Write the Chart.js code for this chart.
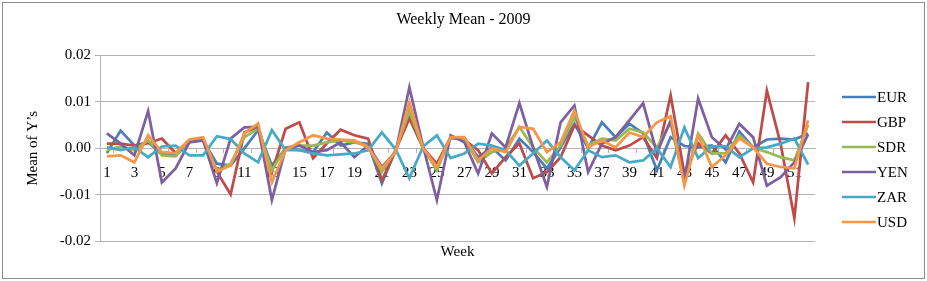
<!DOCTYPE html>
<html>
<head>
<meta charset="utf-8">
<script src="https://cdn.jsdelivr.net/npm/chart.js@4.4.1/dist/chart.umd.min.js"></script>
<style>
  body { margin: 0; background: #fff; }
  #frame { position: absolute; left: 2px; top: 2px; width: 921px; height: 275px; border: 1px solid #8c8c8c; pointer-events: none; }
  canvas { position: absolute; left: 0; top: 0; }
</style>
</head>
<body>
<canvas id="chart" width="927" height="281"></canvas>
<div id="frame"></div>
<script>
// weekly mean of Y's, 2009

const weeks = Array.from({ length: 52 }, (_, i) => String(i + 1));
const yTicks = [-0.02, -0.01, 0, 0.01, 0.02];

const eur = [-0.001, 0.0038, 0.0006, 0.0013, -0.0012, -0.0015, 0.0015, 0.0017, -0.0033, -0.0037,
  0.0, 0.0039, -0.0037, 0.0, -0.0004, -0.0008, 0.0034, 0.0006, 0.0013, 0.001,
  -0.0075, -0.0004, 0.0077, 0.0, -0.0037, 0.0022, 0.002, -0.0019, 0.0002, -0.0026,
  0.0021, -0.0008, -0.0043, 0.0002, 0.0053, 0.0, 0.0056, 0.0024, 0.0053, 0.0032,
  -0.0047, 0.0024, 0.0005, 0.0002, 0.0006, -0.003, 0.0036, 0.0002, 0.0019, 0.0021,
  0.0019, 0.0032];
const gbp = [0.001, 0.001, 0.0006, 0.0011, 0.0021, -0.001, 0.0017, 0.0017, -0.005, -0.0099,
  0.0034, 0.0046, -0.0051, 0.0042, 0.0056, -0.0021, 0.0011, 0.004, 0.0028, 0.0021,
  -0.0069, -0.0004, 0.0064, 0.0, -0.0033, 0.0024, 0.0018, -0.0004, -0.0054, -0.0019,
  0.0011, -0.0064, -0.0051, -0.0019, 0.0049, 0.0028, 0.0006, -0.0004, 0.0006, 0.0024,
  -0.0021, 0.0114, -0.0054, 0.0011, -0.0011, 0.0028, -0.0011, -0.0073, 0.0124, 0.001,
  -0.015, 0.0142];
const sdr = [-0.0004, 0.0004, -0.0004, 0.0017, -0.0015, -0.0017, 0.0017, 0.002, -0.0047, -0.0033,
  0.0024, 0.0042, -0.0047, 0.0002, 0.0006, 0.0006, 0.0013, 0.0017, 0.0013, 0.0006,
  -0.0051, -0.0004, 0.008, 0.0, -0.0047, 0.0024, 0.002, -0.003, -0.0008, 0.0,
  0.0046, 0.0002, -0.003, 0.0006, 0.0067, 0.0006, 0.0021, 0.0017, 0.0042, 0.0034,
  0.0002, 0.0055, -0.0075, 0.0032, -0.0011, -0.0011, 0.0028, 0.0002, -0.0008, -0.0019,
  -0.0026, 0.005];
const yen = [0.0032, 0.001, -0.0015, 0.008, -0.0073, -0.0043, 0.0013, 0.0017, -0.0075, 0.0021,
  0.0045, 0.0046, -0.0111, 0.0, 0.0006, -0.0008, -0.0004, 0.0013, -0.0019, 0.0006,
  -0.004, -0.0008, 0.0131, 0.0004, -0.0111, 0.0028, 0.0013, -0.0054, 0.0032, 0.0002,
  0.0097, 0.0002, -0.0083, 0.0056, 0.0092, -0.0051, 0.001, 0.0024, 0.006, 0.0097,
  -0.001, 0.006, -0.0069, 0.0107, 0.0024, -0.0002, 0.0053, 0.0024, -0.008, -0.0062,
  -0.003, 0.003];
const zar = [0.0002, -0.0004, 0.0002, -0.0019, 0.0004, 0.0006, -0.0015, -0.0015, 0.0026, 0.002,
  -0.0011, -0.003, 0.0039, -0.0004, -0.0004, -0.0011, -0.0015, -0.0013, -0.0011, -0.0004,
  0.0034, -0.0002, -0.0064, 0.0004, 0.0028, -0.0021, -0.0011, 0.001, 0.0006, -0.0004,
  -0.0037, -0.0011, 0.0017, -0.0019, -0.0047, -0.0004, -0.0019, -0.0015, -0.003, -0.0026,
  0.0, -0.004, 0.0045, -0.0021, 0.0004, 0.0004, -0.0019, 0.0, 0.0002, 0.001,
  0.0021, -0.0035];
const usd = [-0.0017, -0.0015, -0.003, 0.0028, -0.0008, -0.001, 0.0019, 0.0024, -0.005, -0.0037,
  0.0032, 0.0053, -0.0073, -0.0004, 0.0013, 0.0028, 0.0021, 0.0019, 0.0017, 0.0002,
  -0.0043, -0.0008, 0.0099, 0.0, -0.004, 0.0024, 0.0024, -0.0026, 0.0, -0.0008,
  0.0046, 0.0042, -0.0008, 0.0013, 0.0081, 0.0002, 0.0017, 0.0002, 0.0034, 0.0024,
  0.0056, 0.0069, -0.008, 0.0028, -0.004, -0.0015, 0.0021, 0.0002, -0.0033, -0.004,
  -0.0043, 0.006];

const seriesNames = ["EUR", "GBP", "SDR", "YEN", "ZAR", "USD"];
const seriesData = [eur, gbp, sdr, yen, zar, usd];
const seriesColors = ["#4a7ebb", "#be4b48", "#98b954", "#7d60a0", "#46aac5", "#f79646"];

const serif = "'Liberation Serif', 'Times New Roman', serif";
const gridGray = "#b4b4b4";

// legend drawn at the right like the original (line + label)
const sideLegend = {
  id: "sideLegend",
  afterDraw(chart) {
    const ctx = chart.ctx;
    ctx.save();
    ctx.font = "15px " + serif;
    ctx.textBaseline = "middle";
    ctx.textAlign = "left";
    chart.data.datasets.forEach((ds, i) => {
      const y = 97 + i * 25;
      ctx.strokeStyle = ds.borderColor;
      ctx.lineWidth = 2.5;
      ctx.beginPath();
      ctx.moveTo(842, y);
      ctx.lineTo(876, y);
      ctx.stroke();
      ctx.fillStyle = "#000";
      ctx.fillText(ds.label, 877, y + 1);
    });
    ctx.restore();
  },
};

const ctx = document.getElementById("chart").getContext("2d");
new Chart(ctx, {
  type: "line",
  data: {
    labels: weeks,
    datasets: seriesNames.map((name, i) => ({
      label: name,
      data: seriesData[i],
      borderColor: seriesColors[i],
      backgroundColor: seriesColors[i],
      borderWidth: 2.75,
      pointRadius: 0,
      tension: 0,
      fill: false,
      order: seriesNames.length - i,
      xAxisID: "x",
      yAxisID: "y",
    })),
  },
  options: {
    responsive: false,
    animation: false,
    layout: { padding: 0 },
    plugins: {
      legend: { display: false },
      tooltip: { enabled: false },
      title: {
        display: true,
        text: "Weekly Mean - 2009",
        color: "#000",
        font: { family: serif, size: 16, weight: "normal" },
        padding: { top: 10, bottom: 26 },
      },
    },
    scales: {
      x: {
        type: "category",
        position: { y: 0 },
        offset: true,
        grid: {
          drawOnChartArea: false,
          tickLength: 4,
          offset: true,
          color: (c) => (c.index % 2 === 1 ? gridGray : "rgba(0,0,0,0)"),
        },
        border: { color: gridGray },
        ticks: {
          autoSkip: false,
          maxRotation: 0,
          padding: 12,
          color: "#000",
          font: { family: serif, size: 15 },
          callback: (v, i) => (i % 2 === 0 ? weeks[i] : ""),
        },
      },
      xw: {
        type: "category",
        position: "bottom",
        offset: true,
        grid: { display: false },
        border: { display: false },
        ticks: { display: false },
        title: {
          display: true,
          text: "Week",
          color: "#000",
          font: { family: serif, size: 15 },
          padding: { top: 0, bottom: 20 },
        },
        afterFit: (scale) => { scale.height = 39.5; },
      },
      y: {
        min: -0.02,
        max: 0.02,
        afterBuildTicks: (scale) => { scale.ticks = yTicks.map((v) => ({ value: v })); },
        grid: { color: gridGray, tickLength: 5 },
        border: { color: gridGray },
        ticks: {
          padding: 4,
          color: "#000",
          font: { family: serif, size: 15 },
          callback: (v) => v.toFixed(2),
        },
        title: {
          display: true,
          text: "Mean of Y\u2019s",
          color: "#000",
          font: { family: serif, size: 15 },
          padding: { top: 24, bottom: 0 },
        },
        afterFit: (scale) => { scale.width = 100; },
      },
      // empty column on the right that holds the legend
      yr: {
        type: "linear",
        position: "right",
        grid: { display: false },
        border: { display: false },
        ticks: { display: false },
        afterFit: (scale) => { scale.width = 112; },
      },
    },
  },
  plugins: [sideLegend],
});
</script>
</body>
</html>
